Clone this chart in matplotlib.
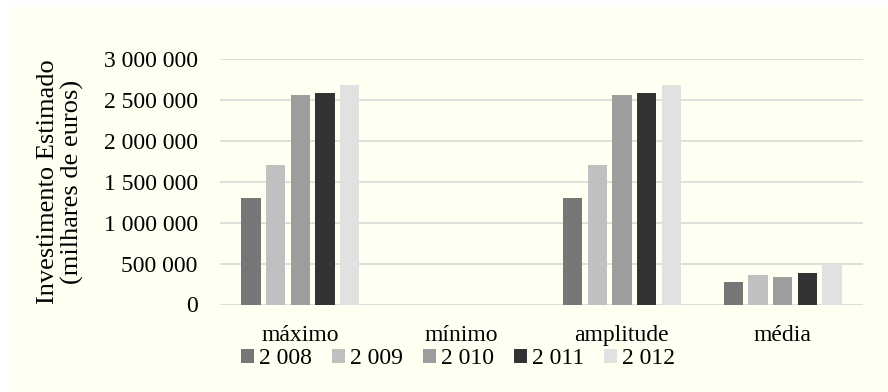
import matplotlib.pyplot as plt
import numpy as np
from matplotlib.patches import Rectangle

categories = ["máximo", "mínimo", "amplitude", "média"]
years = ["2 008", "2 009", "2 010", "2 011", "2 012"]
values = {
    "2 008": [1303000, 0, 1300000, 278000],
    "2 009": [1703000, 0, 1700000, 360000],
    "2 010": [2557000, 0, 2553000, 340000],
    "2 011": [2585000, 0, 2582000, 388000],
    "2 012": [2679000, 0, 2678000, 490000],
}
colors = ["#767676", "#C0C0C0", "#9D9D9D", "#333333", "#E1E1E1"]
yticks = [0, 500000, 1000000, 1500000, 2000000, 2500000, 3000000]

plt.rcParams['font.family'] = ['Liberation Serif', 'DejaVu Serif']
fs = 17

fig = plt.figure(figsize=(8.88, 3.92), dpi=100)
fig.patch.set_facecolor("white")
bg = Rectangle((9 / 888, 0), 1, 1 - 7 / 392, transform=fig.transFigure,
               facecolor="#FFFFF2", edgecolor="none", zorder=-10)
fig.patches.append(bg)

ax = fig.add_axes([220 / 888, 1 - 304.5 / 392, 643 / 888, 245.8 / 392])
ax.set_facecolor("none")

x = np.arange(len(categories))
pitch = 0.1535
width = 0.12
for i, (yr, c) in enumerate(zip(years, colors)):
    ax.bar(x + (i - 2) * pitch, values[yr], width=width, color=c, label=yr, zorder=3)

ax.set_xlim(-0.5, 3.5)
ax.set_ylim(0, 3000000)
ax.set_yticks(yticks)
ax.set_yticklabels([f"{v:,}".replace(",", " ") for v in yticks], fontsize=fs)
ax.set_xticks(x)
ax.set_xticklabels(categories, fontsize=fs)
ax.tick_params(axis="both", length=0)
ax.tick_params(axis="y", pad=16)
ax.tick_params(axis="x", pad=15)
ax.grid(axis="y", color="#D9D9D9", linewidth=1.2, zorder=0)
for s in ax.spines.values():
    s.set_visible(False)

ax.set_ylabel("Investimento Estimado\n(milhares de euros)", fontsize=19,
              labelpad=14, linespacing=1.1)

leg = ax.legend(loc="center", bbox_to_anchor=(0.37, -0.22), ncol=5, frameon=False,
                fontsize=fs, handlelength=0.55, handleheight=0.55, handletextpad=0.21,
                columnspacing=0.85, borderpad=0)
for t in leg.get_texts():
    t.set_fontfamily("Liberation Serif")

fig.savefig("out.png", dpi=100, facecolor=fig.get_facecolor())
